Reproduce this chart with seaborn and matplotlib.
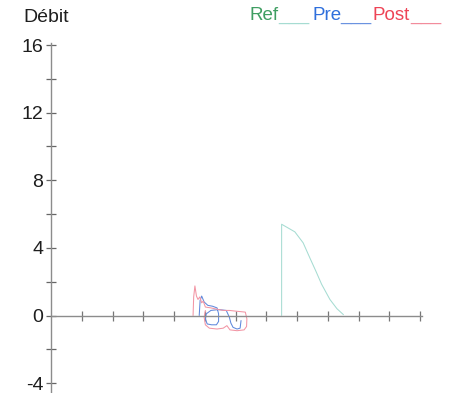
import numpy as np
import pandas as pd
import matplotlib
matplotlib.use("Agg")
import matplotlib.pyplot as plt
import seaborn as sns
from matplotlib.ticker import FixedLocator, NullFormatter

# Flow-volume curves: reference, pre- and post-bronchodilator
ref_x = [7.50, 7.50, 7.93, 8.20, 8.42, 8.62, 8.80, 9.07, 9.30, 9.51]
ref_y = [0.0, 5.4, 4.95, 4.3, 3.4, 2.6, 1.85, 0.95, 0.4, 0.05]

pre_x = [4.82, 4.85, 4.90, 4.98, 5.10, 5.25, 5.40, 5.45, 5.45, 5.38, 5.22, 5.08,
         5.02, 5.05, 5.20, 5.45, 5.70, 5.80, 5.85, 5.92, 6.05, 6.15, 6.18]
pre_y = [0.0, 0.9, 1.15, 0.8, 0.6, 0.55, 0.45, 0.1, -0.35, -0.55, -0.55, -0.5,
         -0.2, 0.1, 0.3, 0.35, 0.3, -0.1, -0.45, -0.7, -0.8, -0.75, -0.3]

post_x = [4.62, 4.64, 4.68, 4.73, 4.78, 4.84, 4.90, 4.95, 5.02, 5.20, 5.45, 5.62,
          5.80, 6.05, 6.32, 6.37, 6.36, 6.28, 6.05, 5.82, 5.72, 5.60, 5.40, 5.15,
          5.02, 4.98, 5.02]
post_y = [0.0, 1.1, 1.75, 1.15, 0.95, 1.1, 0.75, 0.85, 0.5, 0.45, 0.35, 0.3,
          0.3, 0.25, 0.2, -0.2, -0.65, -0.85, -0.9, -0.85, -0.6, -0.75, -0.8, -0.75,
          -0.55, -0.1, 0.3]

y_major = [-4, 0, 4, 8, 12, 16]
y_minor = [-2, 2, 6, 10, 14]
x_ticks = list(range(1, 13))

series_names = ["Ref", "Pre", "Post"]
line_colors = {"Ref": "#a6dcd2", "Pre": "#5f88dc", "Post": "#f295a4"}
text_colors = {"Ref": "#3f9e62", "Pre": "#2f6fdc", "Post": "#ee4456"}
dash_colors = {"Ref": "#a6dcd2", "Pre": "#6b93e0", "Post": "#f28c9c"}

frames = []
for name, xs, ys in [("Ref", ref_x, ref_y), ("Pre", pre_x, pre_y), ("Post", post_x, post_y)]:
    frames.append(pd.DataFrame({"volume": xs, "flow": ys, "serie": name,
                                "order": np.arange(len(xs))}))
df = pd.concat(frames, ignore_index=True)

sns.set_theme(style="white")
plt.rcParams["font.family"] = ["Liberation Sans", "DejaVu Sans"]

W, H = 454, 393
fig = plt.figure(figsize=(W / 100, H / 100), dpi=100)
ax = fig.add_axes([0, 0, 1, 1])
ax.set_facecolor("white")

x0_px, xs_px = 51.0, 30.75
y0_px, ys_px = 315.5, 16.9
ax.set_xlim(-x0_px / xs_px, (W - x0_px) / xs_px)
ax.set_ylim((y0_px - H) / ys_px, y0_px / ys_px)

for name in series_names:
    sub = df[df["serie"] == name]
    sns.lineplot(data=sub, x="volume", y="flow", sort=False, estimator=None,
                 color=line_colors[name], linewidth=0.75, ax=ax, legend=False)

ax.set_xlabel("")
ax.set_ylabel("")

axis_col = "#8c8c8c"
for side in ["top", "right"]:
    ax.spines[side].set_visible(False)
ax.spines["left"].set_position(("data", 0))
ax.spines["bottom"].set_position(("data", 0))
ax.spines["left"].set_bounds(-4.6, 16.15)
ax.spines["bottom"].set_bounds(0, 12.05)
for side in ["left", "bottom"]:
    ax.spines[side].set_color(axis_col)
    ax.spines[side].set_linewidth(1.0)
    ax.spines[side].set_visible(True)

ax.yaxis.set_major_locator(FixedLocator(y_major))
ax.yaxis.set_minor_locator(FixedLocator(y_minor))
ax.xaxis.set_major_locator(FixedLocator(x_ticks))
ax.xaxis.set_major_formatter(NullFormatter())
ax.tick_params(axis="y", which="both", direction="inout", length=7, width=0.9,
               color="#666666", left=True, labelsize=14, labelcolor="#1e1e1e", pad=2)
ax.tick_params(axis="x", which="major", direction="inout", length=7, width=0.9,
               color="#777777", bottom=True)
ax.set_yticklabels([str(v) for v in y_major])

fig.text(23 / W, 1 - 17 / H, "Débit", fontsize=14, color="#1e1e1e",
         ha="left", va="center")

# Legend drawn as coloured words followed by coloured underscores
legend_x = {"Ref": 250, "Pre": 312, "Post": 372}
legend_dash = {"Ref": 278, "Pre": 340, "Post": 410}
for name in series_names:
    fig.text(legend_x[name] / W, 1 - 16 / H, name, fontsize=13.5,
             color=text_colors[name], ha="left", va="center")
    fig.text(legend_dash[name] / W, 1 - 16 / H, "___", fontsize=13.5,
             color=dash_colors[name], ha="left", va="center")

fig.savefig("out.png", dpi=100)
